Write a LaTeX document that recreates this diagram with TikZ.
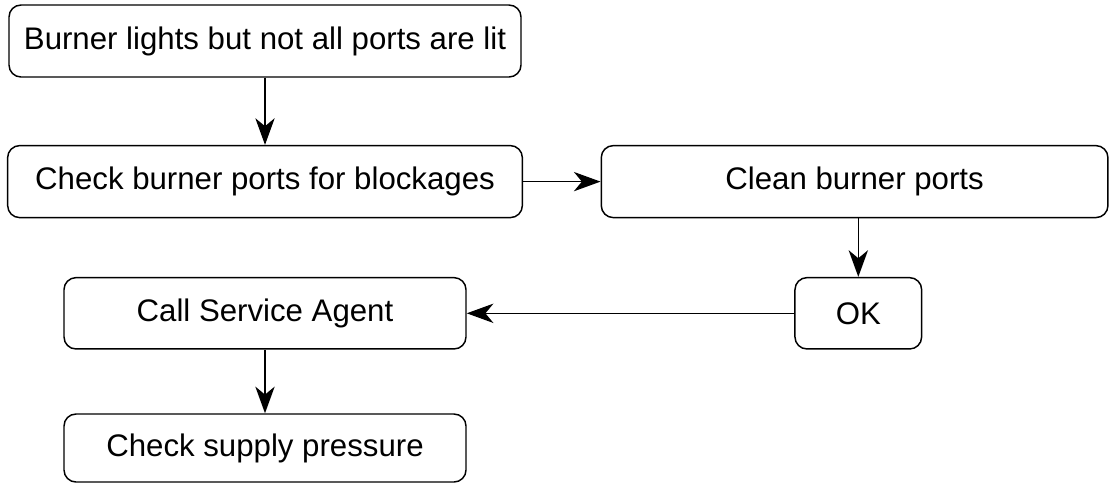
\documentclass[tikz,border=0pt]{standalone}
\usepackage{fontspec}
\setmainfont{Liberation Sans}
\usetikzlibrary{arrows.meta}

\begin{document}
\begin{tikzpicture}[x=0.75pt, y=-0.75pt,
		box/.style = {draw, rounded corners = 9pt, line width = 1.1pt, inner sep = 0pt,
			font = \fontsize{23.4}{28}\selectfont},
		flow/.style = {line width = 1.1pt, -{Stealth[length = 20pt, width = 14.5pt, inset = 6pt]}}]
		\useasboundingbox (0, 0) rectangle (1109, 483);
		\node[box, minimum width = 384pt, minimum height = 54pt] (lights) at (265, 41) {Burner lights but not all ports are lit};
		\node[box, minimum width = 386pt, minimum height = 54pt] (check) at (265, 181.6) {Check burner ports for blockages};
		\node[box, minimum width = 380pt, minimum height = 54pt] (clean) at (854.6, 181.6) {Clean burner ports};
		\node[box, minimum width = 95pt, minimum height = 53.5pt] (ok) at (858.3, 313.3) {OK};
		\node[box, minimum width = 301.5pt, minimum height = 53.5pt] (agent) at (265, 313.3) {Call Service Agent};
		\node[box, minimum width = 301.5pt, minimum height = 51pt] (supply) at (265, 448) {Check supply pressure};
		\draw[flow] (lights) -- (check);
		\draw[flow] (check) -- (clean);
		\draw[flow] (clean.south -| ok.north) -- (ok.north);
		\draw[flow] (ok) -- (agent);
		\draw[flow] (agent) -- (supply);
	\end{tikzpicture}
\end{document}
